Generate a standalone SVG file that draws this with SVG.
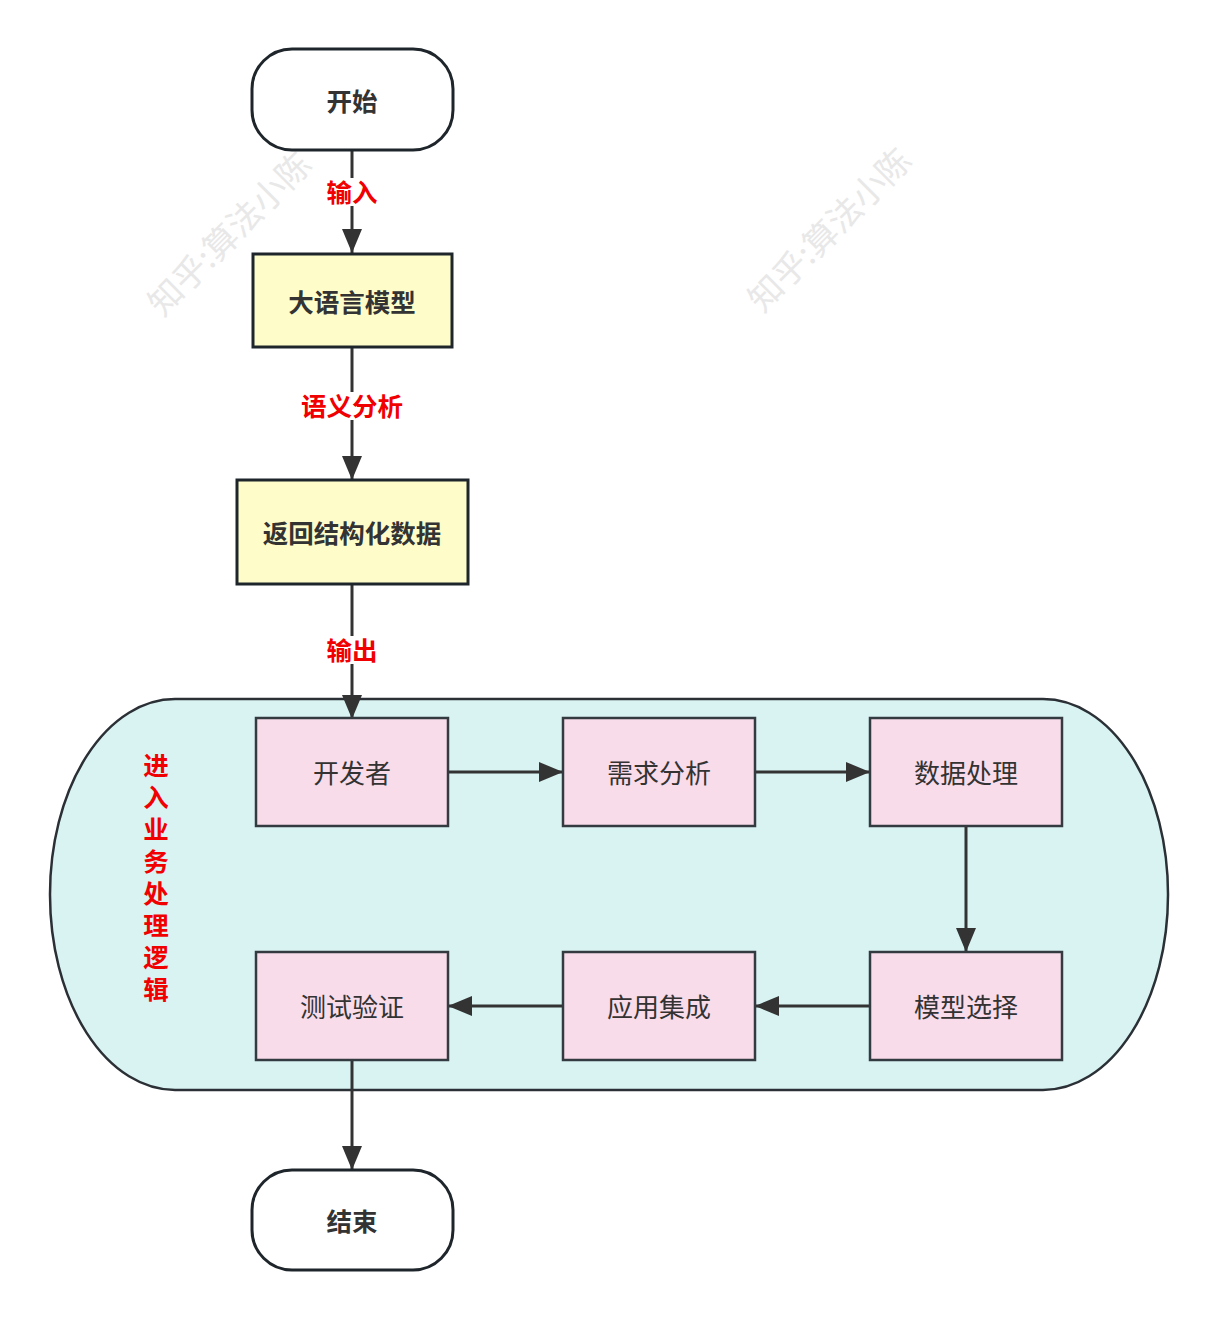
<svg xmlns="http://www.w3.org/2000/svg" width="1218" height="1320" viewBox="0 0 1218 1320">
<style>
.term{fill:#fff;stroke:#1f262b;stroke-width:3}
.llm{fill:#fefdca;stroke:#1f262b;stroke-width:3}
.proc{fill:#f9dcea;stroke:#333a40;stroke-width:2.5}
.tb{font-family:"Noto Sans CJK SC",sans-serif;font-weight:bold;font-size:25.5px;fill:#333;text-anchor:middle;dominant-baseline:central}
.tn{font-family:"Noto Sans CJK SC",sans-serif;font-size:26px;fill:#333;text-anchor:middle;dominant-baseline:central}
.lbl{font-family:"Noto Sans CJK SC",sans-serif;font-weight:bold;font-size:25.5px;fill:#f00000;text-anchor:middle;dominant-baseline:central}
.wm{font-family:"Noto Sans CJK SC",sans-serif;font-size:34px;fill:#e8e8e8;text-anchor:middle;dominant-baseline:central}
.edge{stroke:#333;stroke-width:3;fill:none;marker-end:url(#ah)}
</style>
<defs>
<marker id="ah" markerWidth="26" markerHeight="22" refX="24" refY="10" orient="auto" markerUnits="userSpaceOnUse">
<path d="M0,0 L24,10 L0,20 Z" fill="#333"/>
</marker>
</defs>
<rect width="1218" height="1320" fill="#fff"/>
<g id="watermarks">
<text class="wm" transform="translate(228,232) rotate(-45)">知乎:算法小陈</text>
<text class="wm" transform="translate(828,228) rotate(-45)">知乎:算法小陈</text>
</g>
<g id="container">
<rect x="50" y="699" width="1118" height="391" rx="125" ry="195" fill="#d9f3f3" stroke="#2a3035" stroke-width="2.5"/>
<text x="156" y="881" writing-mode="vertical-rl" letter-spacing="6.5" font-family="'Noto Sans CJK SC',sans-serif" font-weight="bold" font-size="25.5" fill="#f00000" text-anchor="middle">进入业务处理逻辑</text>
</g>
<g id="connectors">
<line class="edge" x1="352" y1="151" x2="352" y2="253"/>
<line class="edge" x1="352" y1="348" x2="352" y2="480"/>
<line class="edge" x1="352" y1="585" x2="352" y2="719"/>
<line class="edge" x1="449" y1="772" x2="563" y2="772"/>
<line class="edge" x1="756" y1="772" x2="870" y2="772"/>
<line class="edge" x1="966" y1="827" x2="966" y2="952"/>
<line class="edge" x1="869" y1="1006" x2="755" y2="1006"/>
<line class="edge" x1="562" y1="1006" x2="448" y2="1006"/>
<line class="edge" x1="352" y1="1061" x2="352" y2="1170"/>
<rect x="322" y="178" width="60" height="28" fill="#fff"/>
<text class="lbl" x="352" y="190">输入</text>
<rect x="298" y="392" width="108" height="28" fill="#fff"/>
<text class="lbl" x="352" y="404">语义分析</text>
<rect x="322" y="636" width="60" height="28" fill="#fff"/>
<text class="lbl" x="352" y="648">输出</text>
</g>
<g id="start"><rect class="term" x="252" y="49" width="201" height="101" rx="40"/><text class="tb" x="352" y="99">开始</text></g>
<g id="llm"><rect class="llm" x="253" y="254" width="199" height="93"/><text class="tb" x="352" y="300">大语言模型</text></g>
<g id="structured"><rect class="llm" x="237" y="480" width="231" height="104"/><text class="tb" x="352" y="531">返回结构化数据</text></g>
<g id="dev"><rect class="proc" x="256" y="718" width="192" height="108"/><text class="tn" x="352" y="771">开发者</text></g>
<g id="req"><rect class="proc" x="563" y="718" width="192" height="108"/><text class="tn" x="659" y="771">需求分析</text></g>
<g id="data"><rect class="proc" x="870" y="718" width="192" height="108"/><text class="tn" x="966" y="771">数据处理</text></g>
<g id="model"><rect class="proc" x="870" y="952" width="192" height="108"/><text class="tn" x="966" y="1005">模型选择</text></g>
<g id="integ"><rect class="proc" x="563" y="952" width="192" height="108"/><text class="tn" x="659" y="1005">应用集成</text></g>
<g id="test"><rect class="proc" x="256" y="952" width="192" height="108"/><text class="tn" x="352" y="1005">测试验证</text></g>
<g id="end"><rect class="term" x="252" y="1170" width="201" height="100" rx="40"/><text class="tb" x="352" y="1219">结束</text></g>
</svg>
